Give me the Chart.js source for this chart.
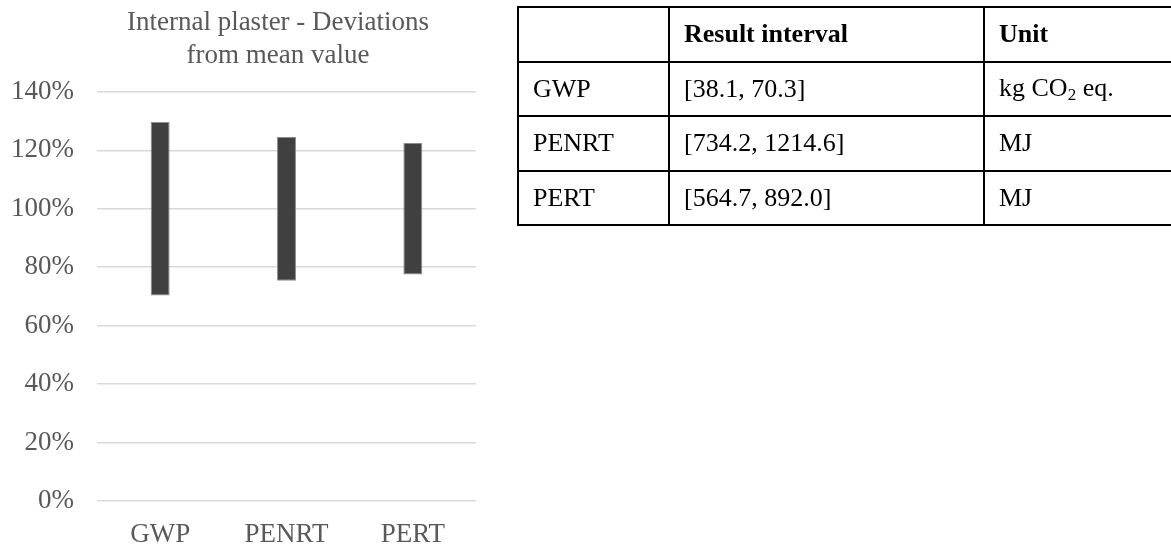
<!DOCTYPE html>
<html>
<head>
<meta charset="utf-8">
<script src="https://cdn.jsdelivr.net/npm/chart.js@4/dist/chart.umd.min.js"></script>
<style>
    html, body {
        margin: 0;
        padding: 0;
        background: #fff;
        width: 1171px;
        height: 549px;
        overflow: hidden;
        position: relative;
    }
    #chart-box {
        position: absolute;
        left: 0;
        top: 0;
        width: 556px;
        height: 549px;
    }
    table.results {
        position: absolute;
        left: 517px;
        top: 6px;
        width: 690px;
        border-collapse: collapse;
        font-family: "Liberation Serif", "Times New Roman", serif;
        font-size: 26px;
        color: #000;
    }
    table.results td, table.results th {
        border: 2px solid #000;
        height: 52.5px;
        padding: 0 0 0 14px;
        text-align: left;
        vertical-align: middle;
    }
    table.results th {
        font-weight: bold;
    }
    table.results sub {
        font-size: 17px;
        vertical-align: -4px;
    }
</style>
</head>
<body>
<div id="chart-box"><canvas id="deviations"></canvas></div>

<table class="results">
    <colgroup>
        <col style="width:151px">
        <col style="width:315px">
        <col>
    </colgroup>
    <thead>
        <tr><th></th><th>Result interval</th><th>Unit</th></tr>
    </thead>
    <tbody id="result-rows"></tbody>
</table>

<script>
    const indicators = ['GWP', 'PENRT', 'PERT'];
    // deviation range from the mean, in %
    const lowDeviation = [70.3, 75.4, 77.5];
    const highDeviation = [129.7, 124.6, 122.5];

    const titleLines = ['Internal plaster - Deviations', 'from mean value'];
    const yTicks = [0, 20, 40, 60, 80, 100, 120, 140];

    const resultIntervals = ['[38.1, 70.3]', '[734.2, 1214.6]', '[564.7, 892.0]'];
    const units = ['kg CO<sub>2</sub> eq.', 'MJ', 'MJ'];

    const rows = document.getElementById('result-rows');
    indicators.forEach((name, i) => {
        const tr = document.createElement('tr');
        tr.innerHTML = '<td>' + name + '</td><td>' + resultIntervals[i] + '</td><td>' + units[i] + '</td>';
        rows.appendChild(tr);
    });

    const serif = '"Liberation Serif", "Times New Roman", serif';
    const grey = '#595959';

    new Chart(document.getElementById('deviations'), {
        type: 'bar',
        data: {
            labels: indicators,
            datasets: [{
                data: indicators.map((n, i) => [lowDeviation[i], highDeviation[i]]),
                backgroundColor: '#404040',
                borderColor: '#8c8c8c',
                borderWidth: 1,
                borderSkipped: false,
                categoryPercentage: 1,
                barPercentage: 0.15
            }]
        },
        options: {
            responsive: true,
            maintainAspectRatio: false,
            animation: false,
            layout: {
                padding: { left: 12, right: 12, top: 0, bottom: 0 }
            },
            plugins: {
                legend: { display: false },
                tooltip: { enabled: false },
                title: {
                    display: true,
                    text: titleLines,
                    color: grey,
                    font: { family: serif, size: 27, weight: 'normal', lineHeight: 1.22 },
                    padding: { top: 6, bottom: 20 }
                }
            },
            scales: {
                x: {
                    grid: { display: false, drawTicks: false },
                    border: { display: false },
                    ticks: {
                        color: grey,
                        font: { family: serif, size: 27 },
                        padding: 18
                    },
                    afterFit: (axis) => { axis.height = 48; }
                },
                y: {
                    min: 0,
                    max: 140,
                    afterBuildTicks: (axis) => {
                        axis.ticks = yTicks.map((v) => ({ value: v }));
                    },
                    afterFit: (axis) => { axis.width = 85; },
                    grid: { color: '#d9d9d9', lineWidth: 1.5, drawTicks: false },
                    border: { display: false },
                    ticks: {
                        color: grey,
                        font: { family: serif, size: 27 },
                        padding: 23,
                        callback: (v) => v + '%'
                    }
                },
                // empty right-hand space so the title sits where it does in the original
                spacer: {
                    type: 'linear',
                    position: 'right',
                    min: 0,
                    max: 140,
                    grid: { display: false, drawTicks: false },
                    border: { display: false },
                    ticks: { display: false },
                    afterFit: (axis) => { axis.width = 68; }
                }
            }
        }
    });
</script>
</body>
</html>
